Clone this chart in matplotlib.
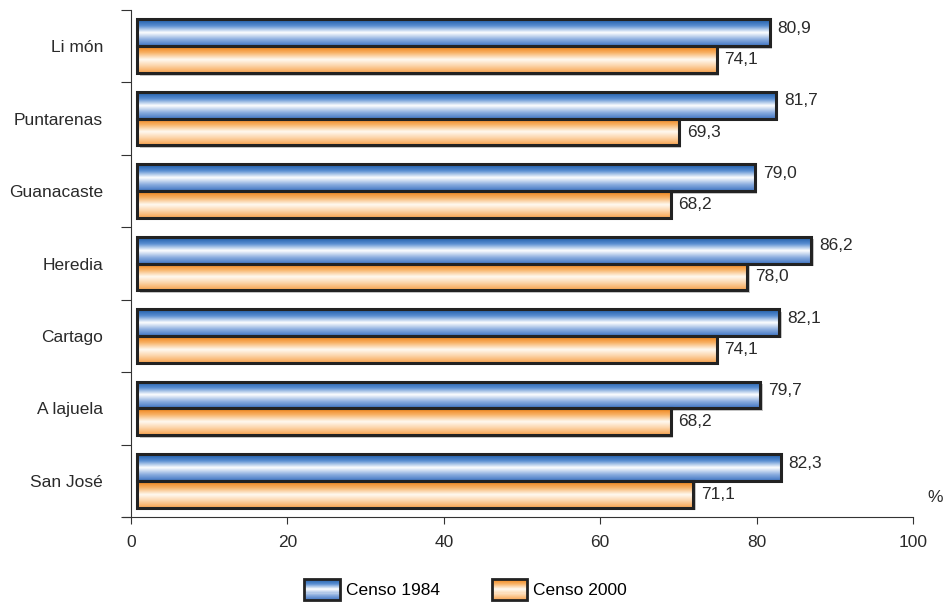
import matplotlib
matplotlib.use('Agg')
import matplotlib.pyplot as plt
import numpy as np
from matplotlib.colors import LinearSegmentedColormap
from matplotlib.patches import Rectangle, Patch
from matplotlib.legend_handler import HandlerBase

plt.rcParams['font.family'] = ['Liberation Sans', 'DejaVu Sans']

# data (bottom to top)
provincias = ['San José', 'A lajuela', 'Cartago', 'Heredia', 'Guanacaste', 'Puntarenas', 'Li món']
censo_1984 = [82.3, 79.7, 82.1, 86.2, 79.0, 81.7, 80.9]
censo_2000 = [71.1, 68.2, 74.1, 78.0, 68.2, 69.3, 74.1]
series_names = ['Censo 1984', 'Censo 2000']

# gradient colormaps: edge colour -> white -> edge colour
blue_cmap = LinearSegmentedColormap.from_list(
    'b', ['#1b5aa6', '#5b8fd2', '#ffffff', '#8fb0e0', '#3f74c2'])
orange_cmap = LinearSegmentedColormap.from_list(
    'o', ['#ef7f10', '#f8b46a', '#fffaf2', '#fcd2a4', '#f7a24e'])

fig = plt.figure(figsize=(9.45, 6.03), dpi=100)
ax = fig.add_axes([0.1386, 0.1426, 0.8275, 0.8408])

grad = np.linspace(0, 1, 64).reshape(-1, 1)
x0 = 0.8
h = 0.37


def gradient_bar(ax, y_center, value, cmap):
    y_lo = y_center - h / 2
    y_hi = y_center + h / 2
    # shadow
    ax.add_patch(Rectangle((x0 + 0.3, y_lo - 0.035), value, h, facecolor='#c8c8c8',
                           edgecolor='none', zorder=1))
    ax.imshow(grad, cmap=cmap, aspect='auto', extent=(x0, x0 + value, y_lo, y_hi),
              origin='upper', zorder=2, interpolation='bilinear')
    ax.add_patch(Rectangle((x0, y_lo), value, h, facecolor='none',
                           edgecolor='#222222', linewidth=2.2, zorder=3))


class GradientHandler(HandlerBase):
    def __init__(self, cmap):
        super().__init__()
        self.cmap = cmap

    def create_artists(self, legend, orig_handle, xdescent, ydescent, width, height,
                       fontsize, trans):
        arts = []
        n = 20
        for k in range(n):
            yy = -ydescent + height * (1 - (k + 1) / n)
            arts.append(Rectangle((-xdescent, yy), width, height / n + 0.3,
                                  facecolor=self.cmap((k + 0.5) / n), edgecolor='none',
                                  transform=trans))
        arts.append(Rectangle((-xdescent, -ydescent), width, height, facecolor='none',
                              edgecolor='#222222', linewidth=2, transform=trans))
        return arts


for i in range(len(provincias)):
    gradient_bar(ax, i + h / 2, censo_1984[i], blue_cmap)
    gradient_bar(ax, i - h / 2, censo_2000[i], orange_cmap)
    ax.text(x0 + censo_1984[i] + 1.0, i + h / 2 + 0.06, f'{censo_1984[i]:.1f}'.replace('.', ','),
            fontsize=12.5, color='#2a2a2a', va='center', ha='left')
    ax.text(x0 + censo_2000[i] + 1.0, i - h / 2, f'{censo_2000[i]:.1f}'.replace('.', ','),
            fontsize=12.5, color='#2a2a2a', va='center', ha='left')

ax.set_xlim(0, 100)
ax.set_ylim(-0.5, len(provincias) - 0.5)
ax.set_xticks([0, 20, 40, 60, 80, 100])
ax.set_xticklabels(['0', '20', '40', '60', '80', '100'], fontsize=12.5, color='#2a2a2a')
ax.set_yticks(np.arange(-0.5, len(provincias), 1.0))
ax.set_yticklabels([])
ax.set_yticks(np.arange(len(provincias)), minor=True)
ax.set_yticklabels(provincias, minor=True, fontsize=12.5, color='#2a2a2a')
ax.tick_params(axis='y', which='minor', length=0, pad=20)
ax.tick_params(axis='y', which='major', length=7, color='#333333')
ax.tick_params(axis='x', length=5, color='#333333', pad=8)

for s in ['top', 'right']:
    ax.spines[s].set_visible(False)
ax.spines['left'].set_color('#333333')
ax.spines['bottom'].set_color('#333333')
ax.spines['bottom'].set_bounds(-1, 100)

ax.text(1.019, 0.03, '%', transform=ax.transAxes, fontsize=12.5, color='#2a2a2a')

handles = [Patch(), Patch(facecolor='w')]
fig.legend(handles, series_names, loc='center', bbox_to_anchor=(0.4926, 0.022),
           ncol=2, frameon=False, fontsize=12.5, handlelength=2.05, handleheight=1.5,
           columnspacing=3.0, handletextpad=0.35,
           handler_map={handles[0]: GradientHandler(blue_cmap),
                        handles[1]: GradientHandler(orange_cmap)})

fig.savefig('out.png', dpi=100)
